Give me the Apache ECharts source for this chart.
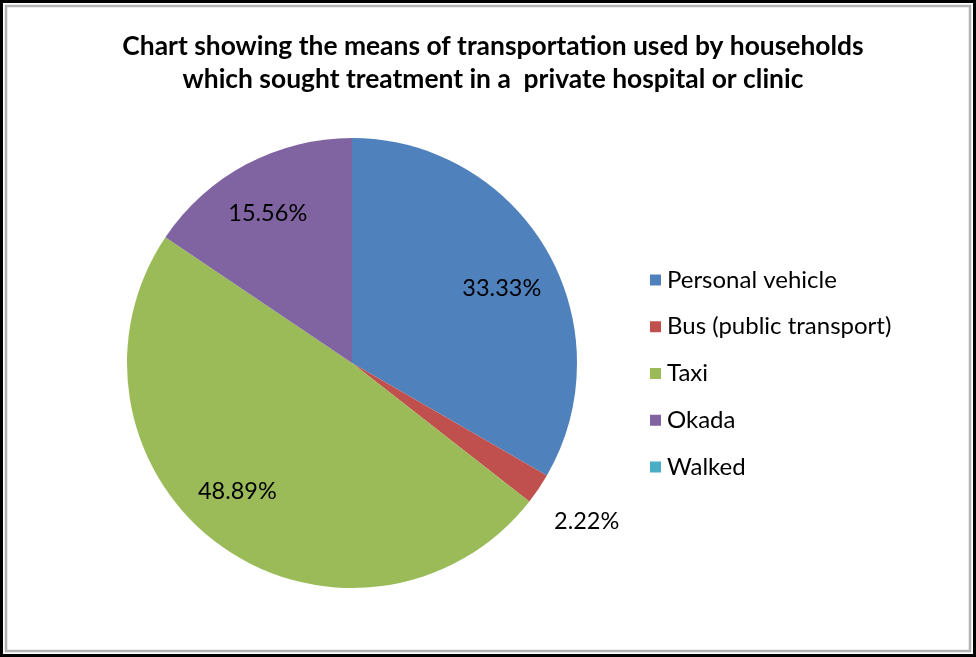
<!DOCTYPE html>
<html>
<head>
<meta charset="utf-8">
<script src="https://cdn.jsdelivr.net/npm/echarts@6/dist/echarts.min.js"></script>
<style>
html,body{margin:0;padding:0;background:#fff;}
#chart{width:976px;height:657px;}
</style>
</head>
<body>
<div id="chart"></div>
<script>
const categories = ['Personal vehicle', 'Bus (public transport)', 'Taxi', 'Okada', 'Walked'];
const values = [33.33, 2.22, 48.89, 15.56, 0];
const colors = ['#4F81BD', '#C0504D', '#9BBB59', '#8064A2', '#4BACC6'];
const titleText = 'Chart showing the means of transportation used by households\nwhich sought treatment in a  private hospital or clinic';

const FONT = 'Lato';
const center = [352, 363];
const R = 225;
// small label nudges (style only) to mimic the original's best-fit label placement
const labelNudge = { 'Personal vehicle': [0, 12], 'Taxi': [-13, -12], 'Okada': [-3, 3] };

function items(filter) {
  return categories.map((name, i) => ({
    name: name,
    value: values[i],
    label: { show: filter(i), offset: labelNudge[name] || [0, 0] }
  }));
}

const chart = echarts.init(document.getElementById('chart'), null, { renderer: 'canvas' });
chart.setOption({
  animation: false,
  backgroundColor: '#fff',
  color: colors,
  title: {
    text: titleText,
    left: 488,
    textAlign: 'center',
    top: 25,
    textStyle: { fontFamily: FONT, fontWeight: 'bold', fontSize: 26.4, lineHeight: 33, color: '#000' }
  },
  legend: {
    orient: 'vertical',
    left: 645,
    top: 263,
    icon: 'rect',
    itemWidth: 11,
    itemHeight: 11,
    itemGap: 22.75,
    selectedMode: false,
    data: categories,
    textStyle: { fontFamily: FONT, fontSize: 24, lineHeight: 21, color: '#000', padding: [0, 0, 0, 1] }
  },
  graphic: [
    { type: 'rect', shape: { x: 1.5, y: 1.5, width: 973, height: 654 }, style: { fill: 'none', stroke: '#000', lineWidth: 3 }, silent: true },
    { type: 'rect', shape: { x: 6, y: 6, width: 964, height: 645 }, style: { fill: 'none', stroke: '#b4b4b4', lineWidth: 2.5 }, silent: true }
  ],
  series: [
    {
      type: 'pie',
      center: center,
      radius: [0, R],
      startAngle: 90,
      clockwise: true,
      silent: true,
      label: { show: false },
      labelLine: { show: false },
      itemStyle: { borderWidth: 0 },
      data: categories.map((name, i) => ({ name: name, value: values[i] }))
    },
    {
      type: 'pie',
      center: center,
      radius: [0, 340],
      startAngle: 90,
      clockwise: true,
      silent: true,
      itemStyle: { color: 'rgba(0,0,0,0)' },
      label: {
        position: 'inside',
        formatter: p => p.value.toFixed(2) + '%',
        fontFamily: FONT, fontSize: 23.5, color: '#000'
      },
      labelLine: { show: false },
      data: items(i => i !== 1 && values[i] > 0)
    },
    {
      type: 'pie',
      center: center,
      radius: [0, 560],
      startAngle: 90,
      clockwise: true,
      silent: true,
      itemStyle: { color: 'rgba(0,0,0,0)' },
      label: {
        position: 'inside',
        formatter: p => p.value.toFixed(2) + '%',
        fontFamily: FONT, fontSize: 23.5, color: '#000'
      },
      labelLine: { show: false },
      data: items(i => i === 1)
    }
  ]
});
</script>
</body>
</html>
